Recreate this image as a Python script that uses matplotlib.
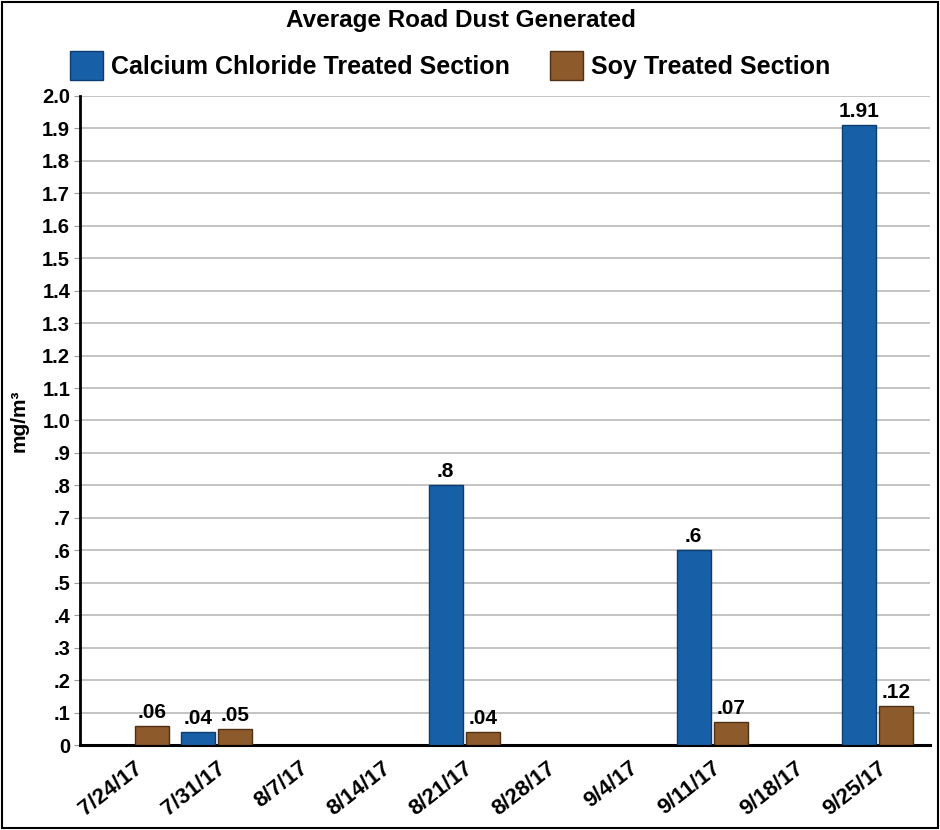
import numpy as np
import matplotlib
matplotlib.use("Agg")
import matplotlib.pyplot as plt
from matplotlib.patches import Rectangle

fam = "Liberation Sans"
plt.rcParams['font.family'] = [fam, 'DejaVu Sans']
plt.rcParams['font.weight'] = 'bold'

dates = ["7/24/17", "7/31/17", "8/7/17", "8/14/17", "8/21/17",
         "8/28/17", "9/4/17", "9/11/17", "9/18/17", "9/25/17"]
calcium = [np.nan, 0.04, np.nan, np.nan, 0.8, np.nan, np.nan, 0.6, np.nan, 1.91]
soy = [0.06, 0.05, np.nan, np.nan, 0.04, np.nan, np.nan, 0.07, np.nan, 0.12]
calcium_labels = ["", ".04", "", "", ".8", "", "", ".6", "", "1.91"]
soy_labels = [".06", ".05", "", "", ".04", "", "", ".07", "", ".12"]
yticks = [0, .1, .2, .3, .4, .5, .6, .7, .8, .9, 1.0, 1.1, 1.2, 1.3, 1.4, 1.5, 1.6, 1.7, 1.8, 1.9, 2.0]
ytick_labels = ["0", ".1", ".2", ".3", ".4", ".5", ".6", ".7", ".8", ".9", "1.0",
                "1.1", "1.2", "1.3", "1.4", "1.5", "1.6", "1.7", "1.8", "1.9", "2.0"]

blue = "#175fa6"
brown = "#8d5a2b"

fig = plt.figure(figsize=(9.4, 8.3), dpi=100)
ax = fig.add_axes([0.085, 0.1024, 0.904, 0.782])

x = np.arange(len(dates))
w = 0.41
off = 0.225
b1 = ax.bar(x - off, calcium, w, color=blue, edgecolor="#0d3c6e", linewidth=1.0, zorder=3)
b2 = ax.bar(x + off, soy, w, color=brown, edgecolor="#4f3014", linewidth=1.0, zorder=3)

for xi, v, lab in zip(x, calcium, calcium_labels):
    if lab:
        ax.text(xi - off, v + 0.012, lab, ha='center', va='bottom', fontsize=15, fontweight='bold')
for xi, v, lab in zip(x, soy, soy_labels):
    if lab:
        ax.text(xi + off, v + 0.012, lab, ha='center', va='bottom', fontsize=15, fontweight='bold')

ax.set_xlim(-0.65, 9.63)
ax.set_ylim(0, 2.0)
ax.set_yticks(yticks)
ax.set_yticklabels(ytick_labels, fontsize=14.5, fontweight='bold')
ax.yaxis.grid(True, color="#c4c4c4", linewidth=1.4, zorder=0)
ax.set_axisbelow(True)
ax.tick_params(axis='y', length=4, color="#999999", pad=3)
ax.set_xticks(x)
ax.set_xticklabels(dates, rotation=38, ha='right', rotation_mode='anchor',
                   fontsize=16, fontweight='bold')
ax.tick_params(axis='x', length=0, pad=9)
for s in ['top', 'right']:
    ax.spines[s].set_visible(False)
ax.spines['left'].set_linewidth(2)
ax.spines['bottom'].set_linewidth(2.2)
ax.set_ylabel("mg/m³", fontsize=15, fontweight='bold', labelpad=10)

fig.text(0.49, 0.975, "Average Road Dust Generated", ha='center', va='center',
         fontsize=17.5, fontweight='bold')

ax.legend([b1, b2], ["Calcium Chloride Treated Section", "Soy Treated Section"],
          loc='lower center', bbox_to_anchor=(0.436, 0.99), ncol=2, frameon=False,
          prop={'size': 18, 'weight': 'bold', 'family': [fam, 'DejaVu Sans']},
          handlelength=1.3, handleheight=1.4, columnspacing=1.6, handletextpad=0.35)

fig.patches.append(Rectangle((0.002, 0.002), 0.996, 0.996, transform=fig.transFigure,
                             fill=False, edgecolor='black', linewidth=1.5))

fig.savefig("out.png", dpi=100)
